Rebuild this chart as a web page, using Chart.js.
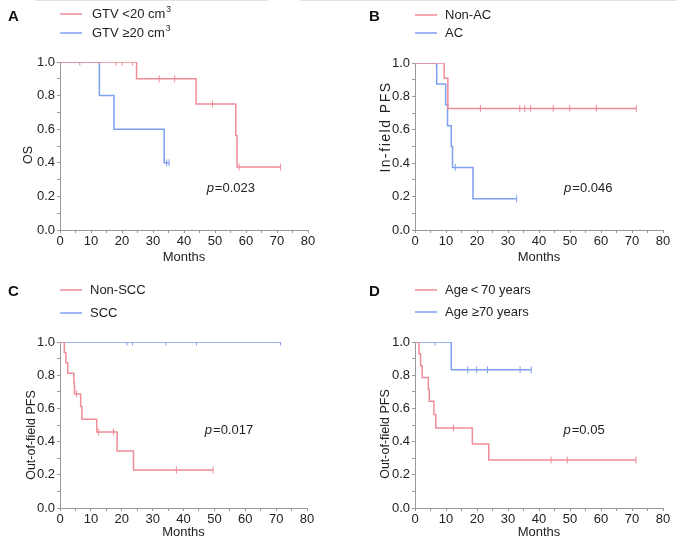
<!DOCTYPE html>
<html>
<head>
<meta charset="utf-8">
<script src="https://cdn.jsdelivr.net/npm/chart.js@4.4.1/dist/chart.umd.min.js"></script>
<style>
  body { margin: 0; background: #fff; }
  #wrap { position: relative; width: 677px; height: 550px; overflow: hidden; }
  .panel { position: absolute; }
  .rule { position: absolute; top: 0; height: 1px; background: #e2e2e2; }
</style>
</head>
<body>
<div id="wrap">
  <div class="rule" style="left:35px;width:233px"></div>
  <div class="rule" style="left:300px;width:377px"></div>
  <div class="panel" style="left:0;top:0;width:338px;height:275px"><canvas id="chartA"></canvas></div>
  <div class="panel" style="left:337px;top:0;width:340px;height:275px"><canvas id="chartB"></canvas></div>
  <div class="panel" style="left:0;top:275px;width:338px;height:275px"><canvas id="chartC"></canvas></div>
  <div class="panel" style="left:337px;top:275px;width:340px;height:275px"><canvas id="chartD"></canvas></div>
</div>
<script>
// ---- data ----
// A: OS by GTV
const aLabels = ["GTV <20 cm³", "GTV ≥20 cm³"];
const aRedT = [0, 24.7, 43.9, 56.7, 57.1, 71.1];
const aRedS = [1, 0.9, 0.75, 0.5625, 0.375, 0.375];
const aRedCens = [18, 20, 23.4, 32, 37, 49.2, 57.8, 71.1];
const aBlueT = [0, 12.7, 17.4, 33.6, 35.2];
const aBlueS = [1, 0.8, 0.6, 0.4, 0.4];
const aBlueCens = [6.4, 34.4, 35.2];
const aP = "0.023";

// B: in-field PFS by AC
const bLabels = ["Non-AC", "AC"];
const bRedT = [0, 9.4, 10.6, 71.4];
const bRedS = [1, 0.909, 0.727, 0.727];
const bRedCens = [6.8, 21.1, 33.8, 35.4, 37.3, 44.6, 49.9, 58.5, 71.4];
const bBlueT = [0, 7.0, 9.9, 10.5, 11.7, 12.1, 18.7, 32.8];
const bBlueS = [1, 0.875, 0.75, 0.625, 0.5, 0.375, 0.1875, 0.1875];
const bBlueCens = [13, 32.8];
const bP = "0.046";

// C: out-of-field PFS by SCC
const cLabels = ["Non-SCC", "SCC"];
const cRedT = [0, 1.4, 1.9, 2.5, 4.5, 4.7, 6.7, 7.1, 11.9, 18.5, 23.8, 49.6];
const cRedS = [1, 0.9375, 0.875, 0.8125, 0.75, 0.6875, 0.611, 0.535, 0.458, 0.344, 0.229, 0.229];
const cRedCens = [5.4, 12.5, 17.3, 37.7, 49.6];
const cBlueT = [0, 71.4];
const cBlueS = [1, 1];
const cBlueCens = [21.7, 23.5, 34.3, 44.2, 71.4];
const cP = "0.017";

// D: out-of-field PFS by age
const dLabels = ["Age\u2009<\u200970 years", "Age ≥70 years"];
const dRedT = [0, 1.3, 1.8, 2.3, 4.3, 4.6, 6.1, 6.7, 18.5, 23.8, 71.3];
const dRedS = [1, 0.929, 0.857, 0.786, 0.714, 0.643, 0.563, 0.482, 0.386, 0.289, 0.289];
const dRedCens = [12.4, 43.9, 49.1, 71.3];
const dBlueT = [0, 11.7, 37.5];
const dBlueS = [1, 0.833, 0.833];
const dBlueCens = [6.5, 17, 19.9, 23.4, 33.9, 37.5];
const dP = "0.05";

const xTicks = [0, 10, 20, 30, 40, 50, 60, 70, 80];
const yTicks = [0.0, 0.2, 0.4, 0.6, 0.8, 1.0];

const RED = "#ef8d98";
const BLUE = "#7f9ff0";
const FONT = "'Liberation Sans', Arial, sans-serif";

function stepAt(times, surv, t) {
  let s = surv[0];
  for (let i = 0; i < times.length; i++) if (times[i] <= t) s = surv[i];
  return s;
}

function curve(times, surv) {
  return times.map((t, i) => ({ x: t, y: surv[i] }));
}

function censors(cens, times, surv) {
  return cens.map(t => ({ x: t, y: stepAt(times, surv, t) }));
}

// labels / titles drawn on top of each panel
const panelText = {
  id: "panelText",
  afterDraw(chart, args, o) {
    const ctx = chart.ctx;
    const area = chart.chartArea;
    ctx.save();
    // panel letter
    ctx.fillStyle = "#111";
    ctx.font = "bold 15px " + FONT;
    ctx.textBaseline = "middle";
    ctx.textAlign = "left";
    ctx.fillText(o.letter, o.letterX, o.letterY);
    // legend
    ctx.font = "13px " + FONT;
    o.labels.forEach((lab, i) => {
      const y = o.legY[i];
      ctx.strokeStyle = i === 0 ? RED : BLUE;
      ctx.lineWidth = 1.5;
      ctx.beginPath();
      ctx.moveTo(area.left, y);
      ctx.lineTo(area.left + 22, y);
      ctx.stroke();
      ctx.fillStyle = "#222";
      ctx.fillText(lab, o.legTextX, y);
      if (o.sup && o.sup[i]) {
        const w = ctx.measureText(lab).width;
        ctx.font = "8.5px " + FONT;
        ctx.fillText(o.sup[i], o.legTextX + w + 1, y - 4);
        ctx.font = "13px " + FONT;
      }
    });
    // y title
    ctx.save();
    ctx.translate(o.yTitleX, o.yTitleY);
    ctx.rotate(-Math.PI / 2);
    ctx.textAlign = "center";
    ctx.font = (o.yTitleSize || 12.5) + "px " + FONT;
    if (o.yTitleSpacing) ctx.letterSpacing = o.yTitleSpacing;
    ctx.fillStyle = "#222";
    ctx.fillText(o.yTitle, 0, 0);
    ctx.restore();
    // p value
    const px = chart.scales.x.getPixelForValue(o.pPos[0]);
    const py = chart.scales.y.getPixelForValue(o.pPos[1]);
    ctx.font = "italic 13px " + FONT;
    ctx.fillStyle = "#222";
    ctx.fillText("p", px, py);
    const pw = ctx.measureText("p").width;
    ctx.font = "13px " + FONT;
    ctx.fillText("=" + o.p, px + pw + 1, py);
    ctx.restore();
  }
};

function makeChart(id, cfg) {
  const canvas = document.getElementById(id);
  const ctx = canvas.getContext("2d");
  const a = cfg.area;
  const padBottom = 10;
  return new Chart(ctx, {
    type: "line",
    data: {
      datasets: [
        { data: curve(cfg.redT, cfg.redS), borderColor: RED, borderWidth: 1.5, stepped: "before", pointRadius: 0, fill: false },
        { data: curve(cfg.blueT, cfg.blueS), borderColor: BLUE, borderWidth: 1.5, stepped: "before", pointRadius: 0, fill: false },
        { data: censors(cfg.redCens, cfg.redT, cfg.redS), showLine: false, pointStyle: "line", rotation: 90, pointRadius: 3.5, borderColor: RED, borderWidth: 1 },
        { data: censors(cfg.blueCens, cfg.blueT, cfg.blueS), showLine: false, pointStyle: "line", rotation: 90, pointRadius: 3.5, borderColor: BLUE, borderWidth: 1 }
      ]
    },
    options: {
      responsive: true,
      maintainAspectRatio: false,
      animation: false,
      events: [],
      layout: { padding: { top: a.t, right: cfg.w - a.r, left: 0, bottom: padBottom } },
      scales: {
        x: {
          type: "linear",
          min: 0,
          max: 80,
          afterFit: (axis) => { axis.height = cfg.h - a.b - padBottom; },
          ticks: {
            stepSize: 5,
            autoSkip: false,
            maxRotation: 0,
            padding: 1,
            color: "#222",
            font: { family: FONT, size: 13 },
            callback: (v) => (xTicks.includes(v) ? String(v) : "")
          },
          grid: { drawOnChartArea: false, tickLength: 3, color: "#999" },
          border: { color: "#999" },
          title: { display: true, text: "Months", color: "#222", font: { family: FONT, size: 13 }, padding: { top: 0, bottom: 0 } }
        },
        y: {
          min: 0,
          max: 1,
          afterFit: (axis) => { axis.width = a.l; },
          ticks: {
            stepSize: 0.1,
            autoSkip: false,
            padding: 2,
            color: "#222",
            font: { family: FONT, size: 13 },
            callback: (v) => {
              const r = Math.round(v * 10) / 10;
              return yTicks.some(t => Math.abs(t - r) < 1e-9) ? r.toFixed(1) : "";
            }
          },
          grid: { drawOnChartArea: false, tickLength: 3, color: "#999" },
          border: { color: "#999" }
        }
      },
      plugins: {
        legend: { display: false },
        tooltip: { enabled: false },
        panelText: cfg.text
      }
    },
    plugins: [panelText]
  });
}

makeChart("chartA", {
  w: 338, h: 275, area: { l: 60, r: 308, t: 62, b: 230 },
  redT: aRedT, redS: aRedS, redCens: aRedCens, blueT: aBlueT, blueS: aBlueS, blueCens: aBlueCens,
  text: { letter: "A", letterX: 8, letterY: 17, labels: aLabels.map(s => s.replace("³", "")), sup: ["3", "3"],
          legY: [14, 33], legTextX: 92, yTitle: "OS", yTitleX: 29, yTitleY: 155, p: aP, pPos: [47.3, 0.25] }
});
makeChart("chartB", {
  w: 340, h: 275, area: { l: 78, r: 326, t: 63, b: 230 },
  redT: bRedT, redS: bRedS, redCens: bRedCens, blueT: bBlueT, blueS: bBlueS, blueCens: bBlueCens,
  text: { letter: "B", letterX: 32, letterY: 17, labels: bLabels,
          legY: [15, 33], legTextX: 108, yTitle: "In-field PFS", yTitleSize: 14, yTitleSpacing: "1.5px", yTitleX: 49, yTitleY: 127, p: bP, pPos: [48.1, 0.25] }
});
makeChart("chartC", {
  w: 338, h: 275, area: { l: 60, r: 307, t: 67, b: 233 },
  redT: cRedT, redS: cRedS, redCens: cRedCens, blueT: cBlueT, blueS: cBlueS, blueCens: cBlueCens,
  text: { letter: "C", letterX: 8, letterY: 17, labels: cLabels,
          legY: [15, 38], legTextX: 90, yTitle: "Out-of-field PFS", yTitleX: 32, yTitleY: 160, p: cP, pPos: [46.9, 0.466] }
});
makeChart("chartD", {
  w: 340, h: 275, area: { l: 78, r: 326, t: 67, b: 233 },
  redT: dRedT, redS: dRedS, redCens: dRedCens, blueT: dBlueT, blueS: dBlueS, blueCens: dBlueCens,
  text: { letter: "D", letterX: 32, letterY: 17, labels: dLabels,
          legY: [15, 37], legTextX: 108, yTitle: "Out-of-field PFS", yTitleX: 49, yTitleY: 159, p: dP, pPos: [47.9, 0.47] }
});
</script>
</body>
</html>
